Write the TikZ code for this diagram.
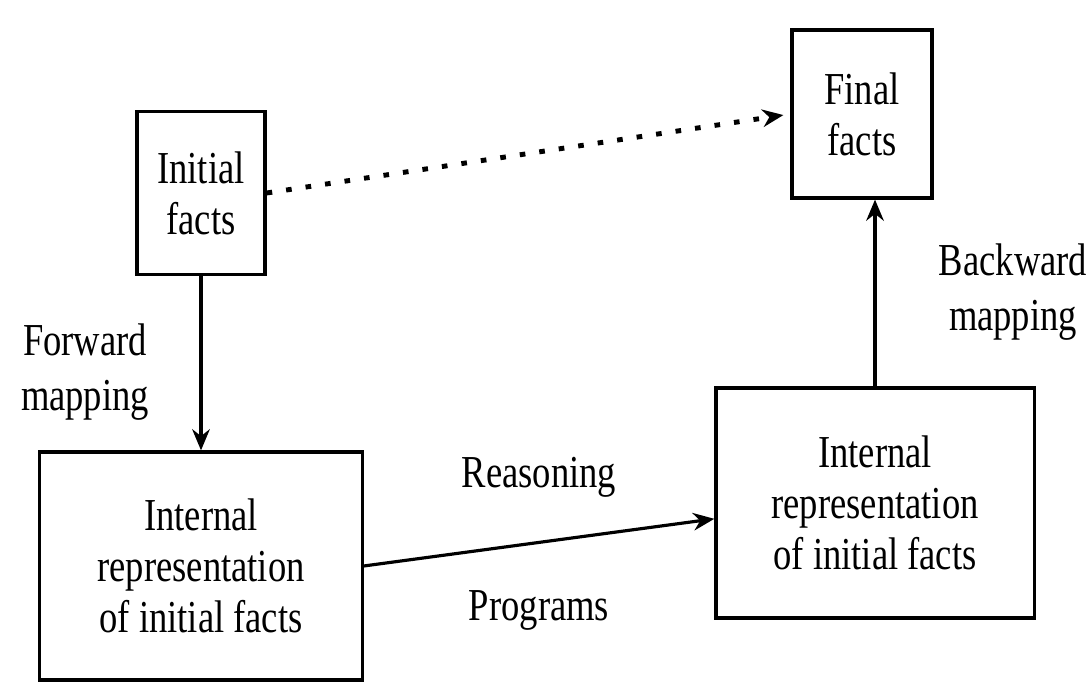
\documentclass[tikz,border=0pt]{standalone}
\usepackage{fontspec}
\setmainfont{Liberation Serif}[FakeStretch=0.8]
\usetikzlibrary{positioning, arrows.meta}
\tikzset{
  % boxes for facts and representations
  factbox/.style={
    draw, rectangle, line width=0.9pt, align=center,
    font=\fontsize{13}{14.5}\selectfont, inner sep=2pt
  },
  % plain and dotted arrows
  flow/.style={
    -{Stealth[length=6pt,width=5pt]}, line width=0.9pt
  },
  dottedflow/.style={
    flow, line width=1.4pt, dash pattern=on 1.6pt off 4pt,
    shorten >=2pt
  },
  % mapping labels
  lbl/.style={
    align=center, font=\fontsize{13}{15.5}\selectfont
  },
}

\begin{document}
\begin{tikzpicture}[x=0.01cm, y=-0.01cm]
  \useasboundingbox (0,0) rectangle (1091,685);

  %% -- Boxes --
  \node[factbox, minimum width=1.28cm, minimum height=1.63cm] (init) at (201,193) {Initial\\facts};
  \node[factbox, minimum width=1.4cm, minimum height=1.68cm] (final) at (862,114) {Final\\facts};
  \node[factbox, minimum width=3.22cm, minimum height=2.28cm] (irleft) at (201,566) {Internal\\representation\\of initial facts};
  \node[factbox, minimum width=3.18cm, minimum height=2.3cm] (irright) at (875,503) {Internal\\representation\\of initial facts};

  %% -- Labels --
  \node[lbl] (fwd) at (85,372) {Forward\\mapping};
  \node[lbl] (bwd) at (1013,292) {Backward\\mapping};

  %% -- Arrows --
  \draw[dottedflow] (init.east) -- (final.west);
  \draw[flow] (init) -- (irleft);
  \draw[flow] (irleft.east) -- node[lbl, above=9pt] (reas) {Reasoning}
    node[lbl, below=10pt] (prog) {Programs} ([yshift=-4.5pt]irright.west);
  \draw[flow] (irright.north) -- (irright.north |- final.south);

\end{tikzpicture}
\end{document}
